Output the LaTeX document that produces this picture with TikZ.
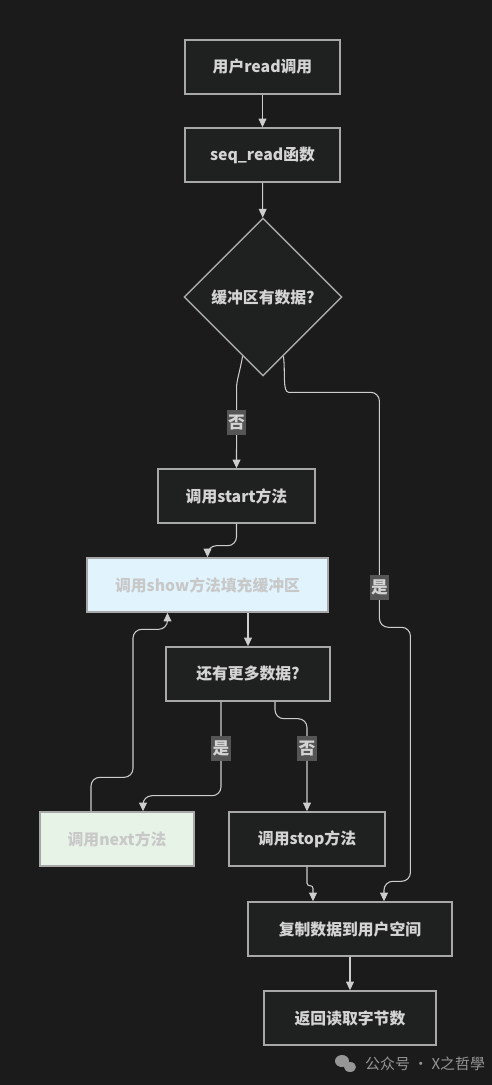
\documentclass[tikz,border=0pt]{standalone}
\usepackage{fontspec}
\setmainfont{Noto Sans CJK SC}
\usetikzlibrary{shapes.geometric,arrows.meta,calc}
\definecolor{bgcol}{RGB}{27,27,28}
\definecolor{boxfill}{RGB}{31,33,33}
\definecolor{boxline}{RGB}{168,168,168}
\definecolor{boxtext}{RGB}{212,212,212}
\definecolor{flowcol}{RGB}{205,205,205}
\definecolor{lblfill}{RGB}{85,85,85}
\definecolor{showfill}{RGB}{225,244,253}
\definecolor{nextfill}{RGB}{232,243,232}
\definecolor{paletext}{RGB}{200,200,200}
\definecolor{markcol}{RGB}{150,150,150}
\tikzset{
  procbox/.style={draw=boxline, fill=boxfill, text=boxtext, line width=0.8pt,
    minimum height=1.08cm, inner sep=0pt, font=\fontsize{9}{11}\selectfont\bfseries},
  decbox/.style={procbox, diamond, aspect=1, minimum size=3.16cm},
  flow/.style={draw=flowcol, line width=0.6pt, rounded corners=5pt,
    -{Triangle[width=4.5pt,length=5pt]}},
  lbl/.style={fill=lblfill, text=boxtext, sharp corners, inner xsep=0.8pt, inner ysep=2.8pt,
    font=\fontsize{9.5}{11}\selectfont\bfseries}
}
\begin{document}
\begin{tikzpicture}[x=0.02cm,y=-0.02cm]
  \fill[bgcol] (0,0) rectangle (492,1085);
  \useasboundingbox (0,0) rectangle (492,1085);
  % nodes
  \node[procbox, minimum width=3.1cm] (call) at (262.5,67) {用户read调用};
  \node[procbox, minimum width=3.1cm] (seqread) at (262.5,155) {seq\_read函数};
  \node[decbox] (hasdata) at (263,297) {缓冲区有数据?};
  \node[procbox, minimum width=3.14cm] (start) at (236.5,496) {调用start方法};
  \node[procbox, minimum width=4.82cm, fill=showfill, text=paletext] (show) at (207.5,585) {调用show方法填充缓冲区};
  \node[procbox, minimum width=3.28cm] (more) at (248,674) {还有更多数据?};
  \node[procbox, minimum width=3.08cm, fill=nextfill, text=paletext] (next) at (117,839) {调用next方法};
  \node[procbox, minimum width=3.12cm] (stop) at (307,839) {调用stop方法};
  \node[procbox, minimum width=4.08cm] (copy) at (350,929) {复制数据到用户空间};
  \node[procbox, minimum width=3.44cm] (ret) at (350,1018) {返回读取字节数};
  % connectors
  \draw[flow] (call) -- (seqread);
  \draw[flow] (seqread) -- (hasdata);
  \draw[flow] (hasdata.-109) to[out=-100,in=90] ++(-6,40) -- node[lbl,pos=0.36]{否} (start.north);
  \draw[flow] (hasdata.-71) to[out=-82,in=180] ++(14,36)
    -- ++(82,0) -- node[lbl,pos=0.83]{是} ++(0,235) -- ++(31,0) -- ++(0,254) -| ($(copy.north)+(34,0)$);
  \draw[flow] (start.south) -- ++(0,22) -| (show.north);
  \draw[flow] (show.south -| more.north) -- (more.north);
  \draw[flow] ($(more.south)+(-27,0)$) -- node[lbl,pos=0.5]{是} ++(0,94) -| ($(next.north)+(26,0)$);
  \draw[flow] ($(more.south)+(27,0)$) -- ++(0,17) -| node[lbl,pos=0.66]{否} (stop.north);
  \draw[flow] ($(next.north)+(-26,0)$) -- ++(0,-34) -- ++(42,0) -- ++(0,-148) -| ($(show.south)+(-40,0)$);
  \draw[flow, rounded corners=1.5pt] (stop.south) -- ++(0,19) -| ($(copy.north)+(-37,0)$);
  \draw[flow] (copy) -- (ret);
  % watermark
  \fill[markcol] (342,1061) ellipse (7 and 6);
  \fill[markcol] (350,1067) ellipse (6 and 5);
  \node[text=markcol, font=\fontsize{8.5}{10}\selectfont, anchor=west] (mark) at (359,1064) {公众号 · X之哲學};
\end{tikzpicture}
\end{document}
